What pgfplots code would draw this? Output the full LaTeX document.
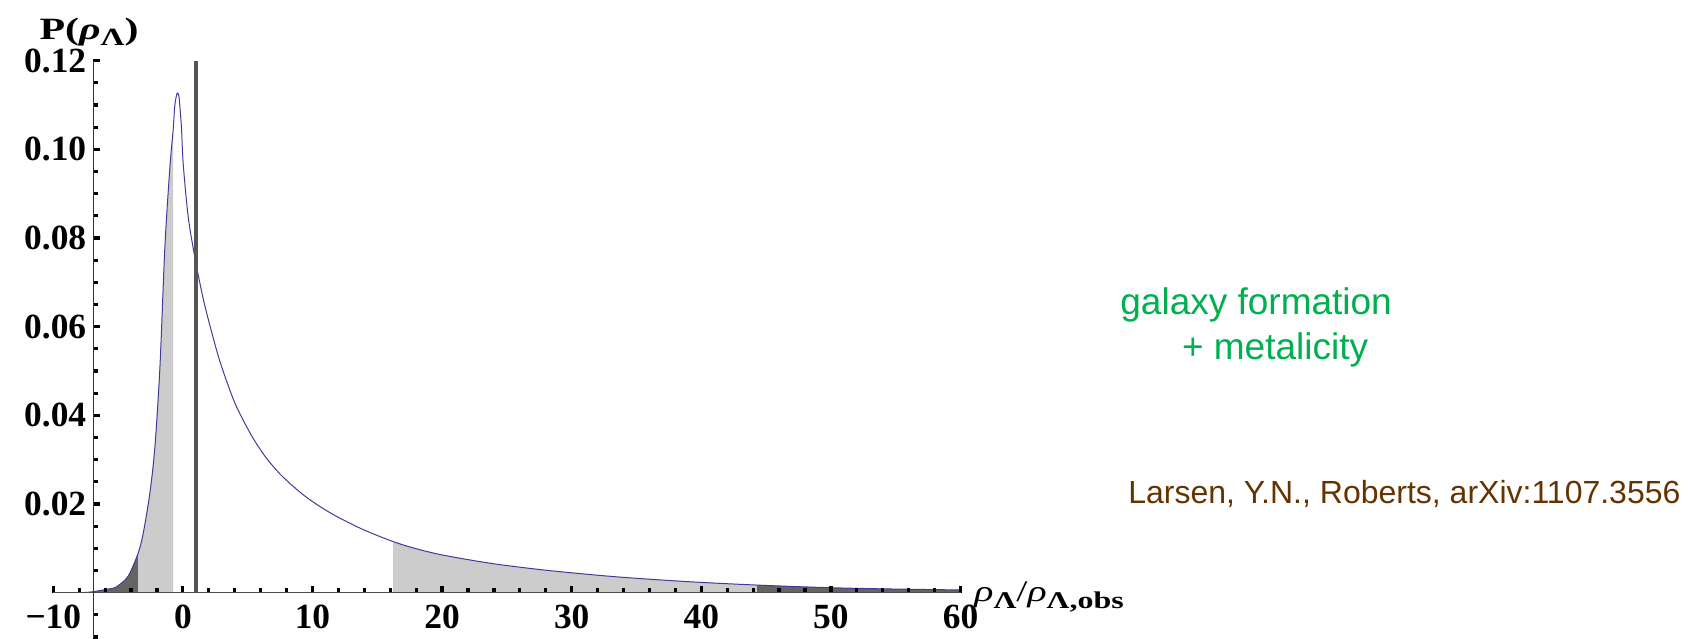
\documentclass[border=0pt]{standalone}
\usepackage{fontspec}
\setmainfont{Liberation Serif}
\newfontfamily\arial{Liberation Sans}
\usepackage{graphicx}
\usepackage{pgfplots}
\pgfplotsset{compat=1.18}
\definecolor{curveblue}{rgb}{0.24,0.24,0.6}
\definecolor{lightshade}{RGB}{204,204,204}
\definecolor{darkshade}{RGB}{100,100,100}
\definecolor{vline}{RGB}{85,85,85}
\definecolor{txtgreen}{RGB}{0,176,80}
\definecolor{txtbrown}{RGB}{102,51,0}

\pgfplotstableread{
x y
-7.69 0.0000
-6.92 0.0002
-6.15 0.0006
-5.38 0.0010
-5.12 0.0013
-4.48 0.0028
-4.09 0.0044
-3.45 0.0089
-3.06 0.0134
-2.55 0.0224
-2.16 0.0329
-1.77 0.0510
-1.39 0.0780
-1.00 0.0961
-0.75 0.1044
-0.62 0.1100
-0.44 0.1127
-0.31 0.1120
-0.23 0.1096
-0.10 0.1044
0.02 0.0969
0.40 0.0850
0.93 0.0755
1.50 0.0672
2.00 0.0612
2.85 0.0522
3.88 0.0437
4.60 0.0392
5.42 0.0348
6.40 0.0305
7.48 0.0268
8.50 0.0240
9.54 0.0215
10.80 0.0190
12.11 0.0168
14.00 0.0141
16.23 0.0115
18.00 0.0099
20.00 0.0085
22.90 0.0070
25.00 0.0061
28.50 0.0049
33.30 0.0036
38.80 0.0025
44.30 0.0017
50.00 0.0011
55.00 0.0008
60.00 0.0006
}\curvedata

\pgfplotstableread{
x y
-7.69 0.0000
-6.92 0.0002
-6.15 0.0006
-5.38 0.0010
-5.12 0.0013
-4.48 0.0028
-4.09 0.0044
-3.45 0.0089
}\darkleft

\pgfplotstableread{
x y
-3.45 0.0089
-3.06 0.0134
-2.55 0.0224
-2.16 0.0329
-1.77 0.0510
-1.39 0.0780
-1.00 0.0961
-0.75 0.1044
}\lightleft

\pgfplotstableread{
x y
16.23 0.0115
18.00 0.0099
20.00 0.0085
22.90 0.0070
25.00 0.0061
28.50 0.0049
33.30 0.0036
38.80 0.0025
44.30 0.0017
}\lightright

\pgfplotstableread{
x y
44.30 0.0017
50.00 0.0011
55.00 0.0008
60.00 0.0006
}\darkright

\begin{document}
\begin{tikzpicture}
\useasboundingbox (0,0) rectangle (846.5pt,319pt);
\begin{axis}[
  at={(26.65pt,0pt)}, anchor=south west,
  scale only axis, width=453.6pt, height=288.65pt,
  xmin=-10, xmax=60, ymin=-0.01024, ymax=0.12,
  axis x line=middle, axis y line=left,
  axis y line shift=-19.96pt,
  axis line style={-},
  x axis line style={black!70, line width=0.8pt},
  y axis line style={black!80, line width=0.5pt},
  axis on top,
  clip=false,
  xtick={-10,0,10,20,30,40,50,60},
  minor xtick={-8,-6,-4,-2,2,4,6,8,12,14,16,18,22,24,26,28,32,34,36,38,42,44,46,48,52,54,56,58},
  xticklabels={−10,0,10,20,30,40,50,60},
  ytick={0.02,0.04,0.06,0.08,0.10,0.12},
  minor ytick={-0.01,-0.005,0.005,0.01,0.015,0.025,0.03,0.035,0.045,0.05,0.055,0.065,0.07,0.075,0.085,0.09,0.095,0.105,0.11,0.115},
  yticklabels={0.02,0.04,0.06,0.08,0.10,0.12},
  tick align=inside,
  major tick length=3.2pt, minor tick length=2.4pt,
  every tick/.style={black, line width=1.6pt},
  tick label style={font=\fontsize{17.7}{18}\selectfont\bfseries},
  xticklabel style={yshift=-2.5pt},
  xlabel={\scalebox{1.33}[1]{\fontsize{15}{16}\selectfont\textit{ρ}\raisebox{-0.25em}{\fontsize{12}{13}\selectfont\bfseries Λ}/\textit{ρ}\raisebox{-0.25em}{\fontsize{12}{13}\selectfont\bfseries Λ,obs}}},
  every axis x label/.style={at={(axis description cs:1.0149,0.064)}, anchor=base west, inner sep=0pt},
  ylabel={\scalebox{1.35}[1]{\fontsize{15.5}{16}\selectfont\bfseries P(\textit{ρ}\raisebox{-0.21em}{\fontsize{12.4}{13}\selectfont Λ})}},
  every axis y label/.style={at={(axis description cs:0.0395,1.037)}, anchor=base, inner sep=0pt},
]
\addplot[fill=darkshade, draw=none] table {\darkleft} \closedcycle;
\addplot[fill=lightshade, draw=none] table {\lightleft} \closedcycle;
\addplot[fill=lightshade, draw=none] table {\lightright} \closedcycle;
\addplot[fill=darkshade, draw=none] table {\darkright} \closedcycle;
\addplot[curveblue, line width=0.5pt, smooth] table {\curvedata};
\addplot[vline, line width=2pt] coordinates {(1,0) (1,0.12)};
\end{axis}
\node[anchor=base west, inner sep=0, text=txtgreen, font=\arial\fontsize{18.5}{20}\selectfont] at (560pt,161.5pt) {galaxy formation};
\node[anchor=base west, inner sep=0, text=txtgreen, font=\arial\fontsize{18.5}{20}\selectfont] at (590.8pt,139pt) {+ metalicity};
\node[anchor=base west, inner sep=0, text=txtbrown, font=\arial\fontsize{16}{17}\selectfont] at (564pt,67.3pt) {Larsen, Y.N., Roberts, arXiv:1107.3556};
\end{tikzpicture}
\end{document}
